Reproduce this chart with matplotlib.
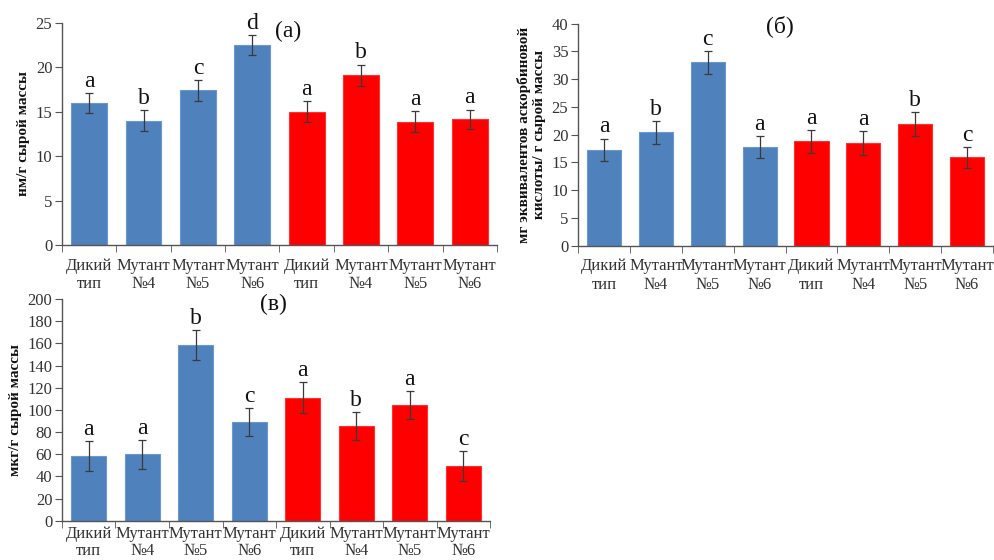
import matplotlib
matplotlib.use("Agg")
import matplotlib.pyplot as plt
import numpy as np

plt.rcParams['font.family'] = ['Liberation Serif', 'DejaVu Serif']

categories = ["Дикий\nтип", "Мутант\n№4", "Мутант\n№5", "Мутант\n№6",
              "Дикий\nтип", "Мутант\n№4", "Мутант\n№5", "Мутант\n№6"]
bar_colors = ["#4F81BD"] * 4 + ["#FF0000"] * 4
edge_colors = ["#6A98D0"] * 4 + ["#FF3030"] * 4

a_values = [16.0, 14.0, 17.4, 22.5, 15.0, 19.1, 13.9, 14.15]
a_errors = [1.1, 1.2, 1.2, 1.1, 1.2, 1.2, 1.2, 1.1]
a_letters = ["a", "b", "c", "d", "a", "b", "a", "a"]

b_values = [17.3, 20.4, 33.0, 17.8, 18.8, 18.5, 21.9, 15.9]
b_errors = [2.0, 2.0, 2.0, 2.0, 2.1, 2.1, 2.1, 1.9]
b_letters = ["a", "b", "c", "a", "a", "a", "b", "c"]

c_values = [58.0, 59.8, 158.5, 89.0, 111.0, 85.4, 104.4, 49.6]
c_errors = [13.5, 13.3, 13.5, 12.7, 13.8, 12.6, 12.9, 13.6]
c_letters = ["a", "a", "b", "c", "a", "b", "a", "c"]

fig = plt.figure(figsize=(9.95, 5.6), dpi=100)

def panel(rect, values, errors, letters, ymax, ystep, ylabel, title, title_xy, letter_off,
          xpad=9, lsp=1.25):
    ax = fig.add_axes(rect)
    x = np.arange(len(values))
    ax.bar(x, values, width=0.66, color=bar_colors, edgecolor=edge_colors, linewidth=0.8, zorder=2)
    ax.errorbar(x, values, yerr=errors, fmt='none', ecolor='#3a3a3a', elinewidth=0.9,
                capsize=3, capthick=0.9, zorder=3)
    for xi, v, e, l in zip(x, values, errors, letters):
        ax.text(xi, v + e + letter_off, l, ha='center', va='bottom', fontsize=17, color='#111111')
    ax.set_xlim(-0.5, len(values) - 0.5)
    ax.set_ylim(0, ymax)
    ax.set_yticks(np.arange(0, ymax + ystep / 2, ystep))
    ax.set_xticks(x)
    ax.set_xticklabels(categories, fontsize=12, color='#333333', linespacing=lsp)
    ax.set_xticks(np.arange(-0.5, len(values)), minor=True)
    ax.tick_params(axis='x', which='major', length=0, pad=xpad)
    ax.tick_params(axis='x', which='minor', length=5, direction='out', color='#555555')
    ax.tick_params(axis='y', labelsize=12, labelcolor='#333333', length=5, color='#555555', pad=2)
    for s in ['top', 'right']:
        ax.spines[s].set_visible(False)
    for s in ['left', 'bottom']:
        ax.spines[s].set_color('#555555')
        ax.spines[s].set_linewidth(1.0)
    ax.set_ylabel(ylabel, fontsize=11, fontweight='bold', color='#111111', labelpad=4)
    fig.text(title_xy[0], title_xy[1], title, fontsize=17, ha='center', va='center', color='#111111')
    return ax

panel([0.0623, 0.5625, 0.4372, 0.3964], a_values, a_errors, a_letters, 25, 5,
      "нм/г сырой массы", "(а)", (0.29, 0.944), 0.15)
panel([0.581, 0.561, 0.417, 0.397], b_values, b_errors, b_letters, 40, 5,
      "мг эквивалентов аскорбиновой\nкислоты/ г сырой массы", "(б)", (0.784, 0.953), 0.2)
panel([0.0623, 0.0702, 0.4302, 0.3958], c_values, c_errors, c_letters, 200, 20,
      "мкг/г сырой массы", "(в)", (0.275, 0.456), 1.0, xpad=4, lsp=1.1)

fig.savefig("out.png", dpi=100)
